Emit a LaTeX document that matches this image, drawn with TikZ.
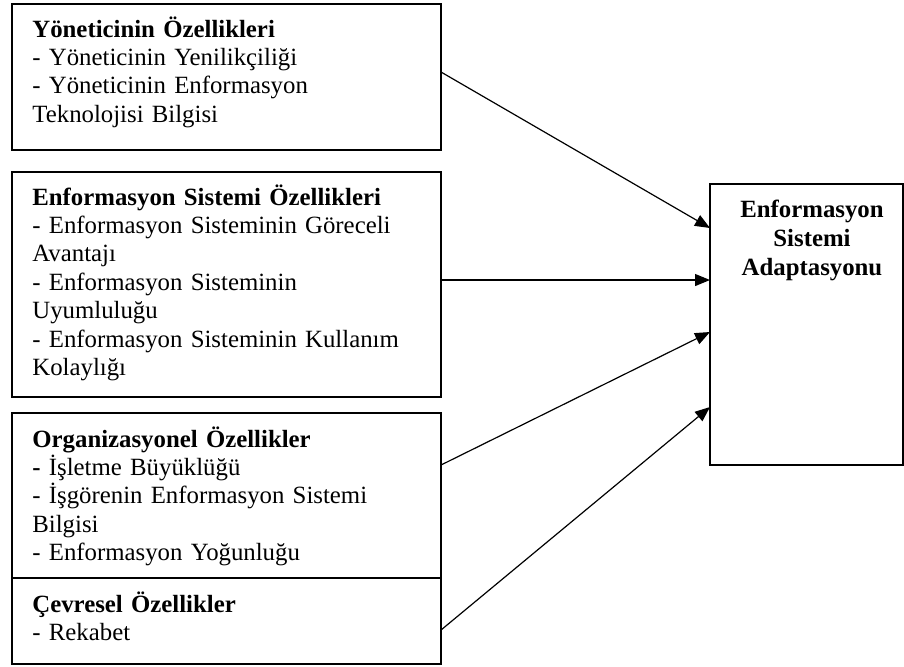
\documentclass[tikz,border=0pt]{standalone}
\usepackage{fontspec}
\setmainfont{Liberation Serif}
\usetikzlibrary{arrows.meta}
\begin{document}
\begin{tikzpicture}[x=0.5pt,y=-0.5pt,
  box/.style={draw, line width=0.6pt, rectangle, inner sep=0pt, outer sep=0pt, anchor=north west},
  boxtext/.style={anchor=base west, inner sep=0pt, text width=205pt, align=left,
    font=\fontsize{12.4}{14.2}\selectfont},
  goaltext/.style={anchor=base, inner sep=0pt, text width=96pt, align=center,
    font=\fontsize{12.4}{14.5}\selectfont\bfseries},
  link/.style={line width=0.6pt, -{Triangle[length=7.5pt,width=6pt]}}]
\useasboundingbox (0,0) rectangle (904,666);

% factor boxes on the left
\node[box, minimum width=214.5pt, minimum height=73pt]   (b1) at (12,4) {};
\node[box, minimum width=214.5pt, minimum height=112.5pt] (b2) at (12,172) {};
\node[box, minimum width=214.5pt, minimum height=82.5pt] (b3) at (12,413) {};
\node[box, minimum width=214.5pt, minimum height=43pt]   (b4) at (12,578) {};

% outcome box on the right
\node[box, minimum width=96.5pt, minimum height=140.5pt] (rb) at (710,184) {};

% box contents
\node[boxtext] (t1) at (32,37) {\textbf{Yöneticinin Özellikleri}\\
- Yöneticinin Yenilikçiliği\\
- Yöneticinin Enformasyon\\
Teknolojisi Bilgisi};

\node[boxtext] (t2) at (32,205) {\textbf{Enformasyon Sistemi Özellikleri}\\
- Enformasyon Sisteminin Göreceli\\
Avantajı\\
- Enformasyon Sisteminin\\
Uyumluluğu\\
- Enformasyon Sisteminin Kullanım\\
Kolaylığı};

\node[boxtext] (t3) at (32,447) {\textbf{Organizasyonel Özellikler}\\
\textbf{-} İşletme Büyüklüğü\\
- İşgörenin Enformasyon Sistemi\\
Bilgisi\\
- Enformasyon Yoğunluğu};

\node[boxtext] (t4) at (32,612) {\textbf{Çevresel Özellikler}\\
- Rekabet};

\node[goaltext] (tr) at (812,217) {Enformasyon\\Sistemi\\Adaptasyonu};

% influences
\draw[link] ([yshift=-34pt]b1.north east) -- ([yshift=-22pt]rb.north west);
\draw[link] ([yshift=-54pt]b2.north east) -- ([yshift=-48pt]rb.north west);
\draw[link] ([yshift=-26pt]b3.north east) -- ([yshift=-74pt]rb.north west);
\draw[link] ([yshift=-26pt]b4.north east) -- ([yshift=-111.5pt]rb.north west);
\end{tikzpicture}
\end{document}
